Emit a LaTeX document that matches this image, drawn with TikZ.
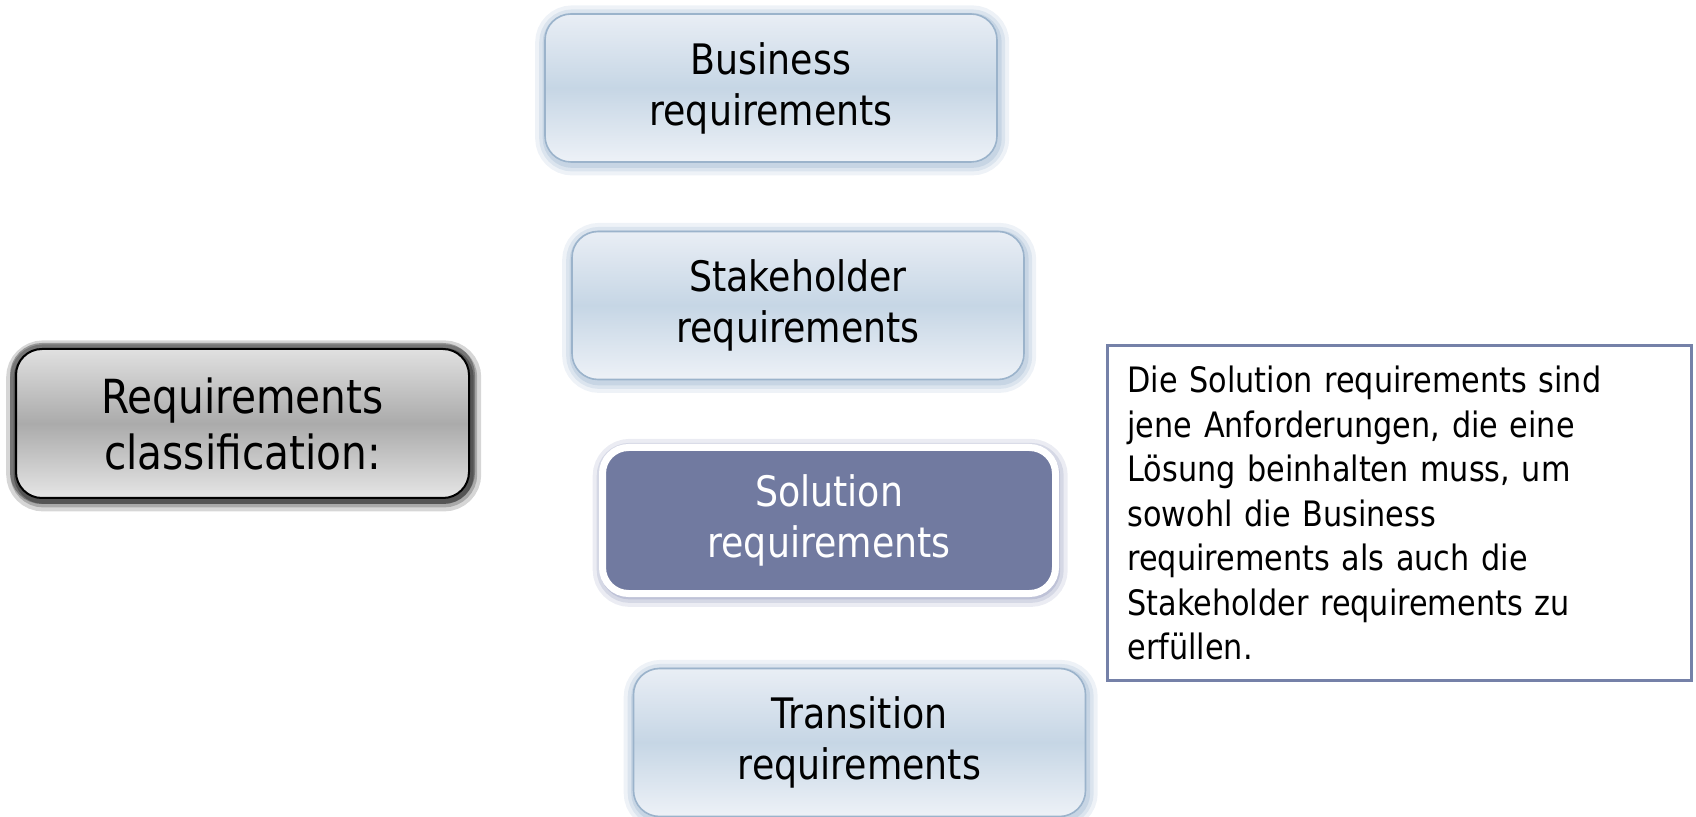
\documentclass[tikz,border=0pt]{standalone}
\usepackage{fontspec}
\setmainfont{DejaVu Sans}[FakeStretch=0.865]

\definecolor{boxtop}{HTML}{E9EEF5}
\definecolor{boxmid}{HTML}{C6D6E5}
\definecolor{boxline}{HTML}{9BB3CB}
\definecolor{boxglow}{HTML}{A9BFD6}
\definecolor{solfill}{HTML}{717AA0}
\definecolor{solglow}{HTML}{9CA2C2}
\definecolor{noteline}{HTML}{7581A8}

\begin{document}
\begin{tikzpicture}[x=0.5pt, y=-0.5pt,
        glow/.style={preaction={draw=#1, line width=11pt, opacity=.2, transform canvas={xshift=.6pt, yshift=-1.2pt}},
            preaction={draw=#1, line width=7pt, opacity=.28, transform canvas={xshift=.6pt, yshift=-1.2pt}},
            preaction={draw=#1, line width=3.5pt, opacity=.4, transform canvas={xshift=.6pt, yshift=-1.2pt}}},
        reqbox/.style={rectangle, rounded corners=13pt, minimum width=226pt, minimum height=74pt, align=center},
        lightbox/.style={reqbox, glow=boxglow, draw=boxline, line width=0.8pt,
            top color=boxtop, bottom color=boxtop!80!white, middle color=boxmid,
            font=\fontsize{21}{25.5}\selectfont},
        solbox/.style={reqbox, glow=solglow, minimum width=226.5pt, minimum height=73pt,
            fill=solfill, draw=white, line width=3.5pt, text=white,
            font=\fontsize{21}{25.5}\selectfont},
        classbox/.style={reqbox, glow=black!80, preaction={draw=black, line width=6pt, opacity=.3},
            minimum width=226.5pt, minimum height=74.5pt, draw=black, line width=1pt,
            top color=black!12, bottom color=black!10, middle color=black!33,
            font=\fontsize{23.5}{28}\selectfont},
        notebox/.style={rectangle, draw=noteline, line width=1.5pt, minimum width=292pt, minimum height=167.5pt,
            inner xsep=10pt, text width=272pt, align=left, font=\fontsize{17.5}{22.25}\selectfont}]

        \useasboundingbox (0,0) rectangle (1696,817);

        \node[classbox] (cls) at (242.5,423.5) {Requirements\\classification:};

        \node[lightbox] (bus) at (771,88) {Business\\requirements};
        \node[lightbox] (stake) at (798,305.5) {Stakeholder\\requirements};
        \node[solbox] (sol) at (829,520.5) {Solution\\requirements};
        \node[lightbox] (trans) at (859.5,742.5) {Transition\\requirements};

        \node[notebox] (note) at (1399.5,513) {Die Solution requirements sind\\
            jene Anforderungen, die eine\\
            Lösung beinhalten muss, um\\
            sowohl die Business\\
            requirements als auch die\\
            Stakeholder requirements zu\\
            erfüllen.};

\end{tikzpicture}
\end{document}
